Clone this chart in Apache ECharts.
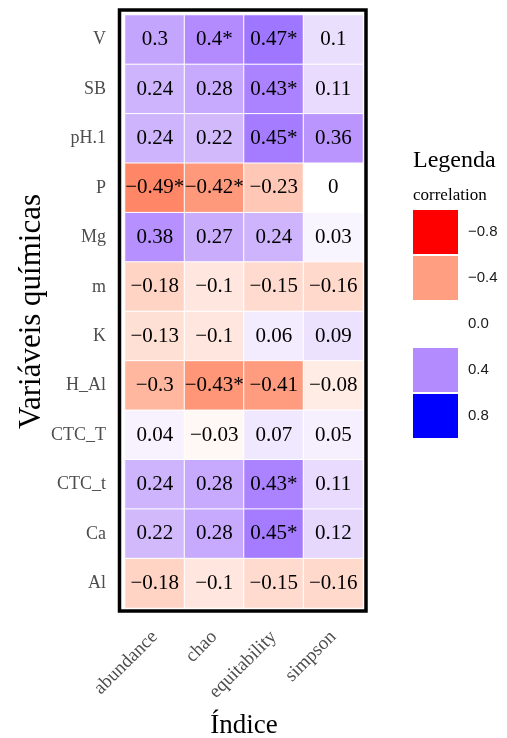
<!DOCTYPE html>
<html>
<head>
<meta charset="utf-8">
<script src="https://cdn.jsdelivr.net/npm/echarts@6/dist/echarts.min.js"></script>
<style>
  html, body { margin: 0; padding: 0; background: #ffffff; }
  #chart { width: 507px; height: 738px; }
</style>
</head>
<body>
<div id="chart"></div>
<script>
// columns (x) and rows (y, top to bottom)
var indices = ['abundance', 'chao', 'equitability', 'simpson']
var variables = ['V', 'SB', 'pH.1', 'P', 'Mg', 'm', 'K', 'H_Al', 'CTC_T', 'CTC_t', 'Ca', 'Al']

// correlation values per index, same order as variables
var abundance = [0.3, 0.24, 0.24, -0.49, 0.38, -0.18, -0.13, -0.3, 0.04, 0.24, 0.22, -0.18]
var chao = [0.4, 0.28, 0.22, -0.42, 0.27, -0.1, -0.1, -0.43, -0.03, 0.28, 0.28, -0.1]
var equitability = [0.47, 0.43, 0.45, -0.23, 0.24, -0.15, 0.06, -0.41, 0.07, 0.43, 0.45, -0.15]
var simpson = [0.1, 0.11, 0.36, 0, 0.03, -0.16, 0.09, -0.08, 0.05, 0.11, 0.12, -0.16]

// significance flags (1 = starred)
var sigAbundance = [0, 0, 0, 1, 0, 0, 0, 0, 0, 0, 0, 0]
var sigChao = [1, 0, 0, 1, 0, 0, 0, 1, 0, 0, 0, 0]
var sigEquitability = [1, 1, 1, 0, 0, 0, 0, 0, 0, 1, 1, 0]
var sigSimpson = [0, 0, 0, 0, 0, 0, 0, 0, 0, 0, 0, 0]

// legend breaks
var legendBreaks = [-0.8, -0.4, 0, 0.4, 0.8]
var legendLabels = ['\u22120.8', '\u22120.4', '0.0', '0.4', '0.8']
var legendColors = ['#FF0000', '#FF9E81', '#FFFFFF', '#B38BFF', '#0000FF']

// red - white - blue ramp (Lab-like stops), -0.8 .. 0.8
var rampColors = ['#FF0000', '#FF6846', '#FF9E81', '#FFCFBF', '#FFFFFF', '#D5BEFB', '#B38BFF', '#7B4FFE', '#0000FF']

var columns = [abundance, chao, equitability, simpson]
var sigs = [sigAbundance, sigChao, sigEquitability, sigSimpson]
var cells = []
columns.forEach(function (col, i) {
  col.forEach(function (v, j) {
    cells.push([i, j, v, sigs[i][j]])
  })
})

var serif = 'Liberation Serif'
var sans = 'Liberation Sans'

var option = {
  animation: false,
  backgroundColor: '#ffffff',
  title: {
    text: 'Legenda',
    subtext: 'correlation',
    left: 413,
    top: 149,
    padding: 0,
    itemGap: 14,
    textStyle: { fontFamily: serif, fontSize: 24, fontWeight: 'normal', color: '#000000' },
    subtextStyle: { fontFamily: serif, fontSize: 17, color: '#000000' }
  },
  grid: { left: 125, top: 15, width: 238, height: 593, outerBoundsMode: 'none' },
  xAxis: {
    type: 'category',
    data: indices,
    offset: 5,
    name: 'Índice',
    nameLocation: 'middle',
    nameGap: 99,
    nameTextStyle: { fontFamily: serif, fontSize: 27, color: '#000000' },
    axisLine: { show: false },
    axisTick: { alignWithLabel: true, length: 6, lineStyle: { color: '#333333', width: 1.5 } },
    axisLabel: { rotate: 45, margin: 21, fontFamily: serif, fontSize: 19, color: '#4D4D4D' },
    splitLine: { show: false }
  },
  yAxis: {
    type: 'category',
    data: variables,
    inverse: true,
    offset: 7,
    name: 'Variáveis químicas',
    nameLocation: 'middle',
    nameRotate: 90,
    nameGap: 66,
    nameTextStyle: { fontFamily: serif, fontSize: 31, color: '#000000' },
    axisLine: { show: false },
    axisTick: { alignWithLabel: true, length: 5, lineStyle: { color: '#333333', width: 1.5 } },
    axisLabel: { margin: 12, fontFamily: serif, fontSize: 18, color: '#4D4D4D' },
    splitLine: { show: false }
  },
  visualMap: [{
    type: 'continuous',
    show: false,
    seriesIndex: 0,
    dimension: 2,
    min: -0.8,
    max: 0.8,
    inRange: { color: rampColors }
  }, {
    type: 'piecewise',
    seriesIndex: 1,
    orient: 'vertical',
    inverse: true,
    align: 'left',
    left: 413,
    top: 210,
    padding: 0,
    itemWidth: 45,
    itemHeight: 44,
    itemGap: 2,
    textGap: 10,
    itemSymbol: 'rect',
    hoverLink: false,
    textStyle: { fontFamily: sans, fontSize: 15, color: '#1A1A1A' },
    pieces: legendBreaks.map(function (b, k) {
      return { value: b, label: legendLabels[k], color: legendColors[k] }
    })
  }],
  graphic: [{
    type: 'rect',
    shape: { x: 119.5, y: 10, width: 246.5, height: 601 },
    style: { fill: 'none', stroke: '#000000', lineWidth: 3.5 },
    z: 100
  }],
  series: [{
    type: 'heatmap',
    data: cells,
    itemStyle: { borderColor: '#ffffff', borderWidth: 1 },
    label: {
      show: true,
      fontFamily: serif,
      fontSize: 21,
      color: '#000000',
      formatter: function (p) {
        var s = String(p.data[2]).replace('-', '\u2212')
        return s + (p.data[3] ? '*' : '')
      }
    }
  }, {
    type: 'scatter',
    data: [],
    silent: true
  }]
}

var myChart = echarts.init(document.getElementById('chart'))
myChart.setOption(option)
</script>
</body>
</html>
